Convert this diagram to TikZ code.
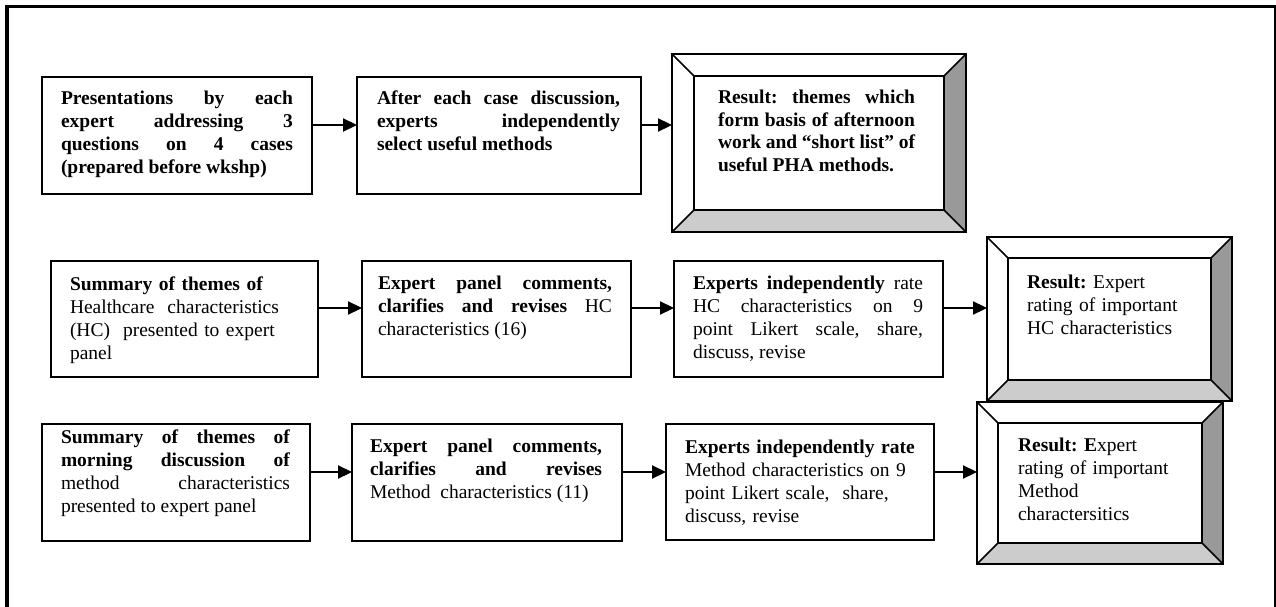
\documentclass[tikz,border=0pt]{standalone}
\usepackage{fontspec}
\setmainfont{Liberation Serif}
\usetikzlibrary{arrows.meta,calc}
\frenchspacing

\definecolor{bevdark}{gray}{0.6}
\definecolor{bevlight}{gray}{0.8}

% shaded faces and outlines of a bevelled result box (#1 outer node, #1-in inner node)
\newcommand\bevelparts[1]{%
  \fill[bevdark] (#1.north east) -- (#1.south east) -- (#1-in.south east) -- (#1-in.north east) -- cycle;
  \fill[bevlight] (#1.south west) -- (#1.south east) -- (#1-in.south east) -- (#1-in.south west) -- cycle;
  \draw[bevline] (#1.north west) rectangle (#1.south east);
  \draw[bevline] (#1-in.north west) rectangle (#1-in.south east);
  \draw[bevline] (#1.north west) -- (#1-in.north west)
                 (#1.north east) -- (#1-in.north east)
                 (#1.south west) -- (#1-in.south west)
                 (#1.south east) -- (#1-in.south east);
}

\begin{document}
\begin{tikzpicture}[x=1pt,y=-1pt,
  every node/.style={inner sep=0pt, outer sep=0pt},
  stepbox/.style={draw, line width=1.6pt, anchor=north west},
  bevelout/.style={anchor=north west},
  bevline/.style={line width=1.6pt, line join=miter},
  txt/.style={anchor=base west, font=\fontsize{19.5}{23}\selectfont\frenchspacing, align=justify},
  ltxt/.style={anchor=base west, font=\fontsize{19.5}{23}\selectfont\frenchspacing, align=left, text width=260pt},
  arr/.style={line width=2.2pt, -{Triangle[length=14pt,width=13pt]}},
]
% page area
\fill[white] (0,0) rectangle (1276,607);
\useasboundingbox (0,0) rectangle (1276,607);

% outer frame (open at the bottom)
\begin{scope}
\clip (0,0) rectangle (1276,607);
\draw[line width=3.5pt] (7,640) -- (7,6.5) -- (1276,6.5);
\draw[line width=1.2pt] (1275,6.5) -- (1275,640);
\end{scope}

% ---------- row 1 ----------
\node[stepbox, minimum width=270pt, minimum height=117pt] (a) at (42,77) {};
\node[stepbox, minimum width=284pt, minimum height=117pt] (b) at (357,77) {};
\node[bevelout, minimum width=294pt, minimum height=178pt] (c) at (672,54) {};
\node[minimum width=250pt, minimum height=134pt] (c-in) at (c.center) {};
\bevelparts{c}

\node[txt, text width=232pt] (a-t) at (61,105) {\bfseries Presentations by each\linebreak
  expert addressing 3\linebreak questions on 4 cases\linebreak (prepared before wkshp)};
\node[txt, text width=243pt] (b-t) at (377,105) {\bfseries After each case discussion,\linebreak
  experts independently\linebreak select useful methods};
\node[txt, text width=197pt] (c-t) at (718,103) {\bfseries Result: themes which\linebreak
  form basis of afternoon\linebreak work and “short list” of\linebreak useful PHA methods.};

\coordinate (r1) at (0,125);
\draw[arr] (a.east |- r1) -- (b.west |- r1);
\draw[arr] (b.east |- r1) -- (c.west |- r1);

% ---------- row 2 ----------
\node[stepbox, minimum width=267pt, minimum height=116pt] (d) at (51,261) {};
\node[stepbox, minimum width=269pt, minimum height=116pt] (e) at (362,261) {};
\node[stepbox, minimum width=269pt, minimum height=116pt] (f) at (674,261) {};
\node[bevelout, minimum width=245pt, minimum height=164pt] (g) at (987,237) {};
\node[minimum width=203pt, minimum height=122pt] (g-in) at (g.center) {};
\bevelparts{g}

\node[ltxt] (d-t) at (70,290) {\textbf{Summary of themes of}\\
  Healthcare\ \ characteristics\\ (HC)\ \ presented to expert\\ panel};
\node[txt, text width=234pt] (e-t) at (378,289) {\textbf{Expert panel comments,\linebreak
  clarifies and revises} HC\linebreak characteristics (16)};
\node[txt, text width=230pt] (f-t) at (693,289) {\textbf{Experts independently} rate\linebreak
  HC characteristics on 9\linebreak point Likert scale, share,\linebreak discuss, revise};
\node[ltxt] (g-t) at (1027,288) {\textbf{Result:} Expert\\ rating of important\\ HC characteristics};

\coordinate (r2) at (0,308);
\draw[arr] (d.east |- r2) -- (e.west |- r2);
\draw[arr] (e.east |- r2) -- (f.west |- r2);
\draw[arr] (f.east |- r2) -- (g.west |- r2);

% ---------- row 3 ----------
\node[stepbox, minimum width=268pt, minimum height=117pt] (h) at (42,424) {};
\node[stepbox, minimum width=270pt, minimum height=117pt] (i) at (352,424) {};
\node[stepbox, minimum width=268pt, minimum height=116pt] (j) at (666,424) {};
\node[bevelout, minimum width=246pt, minimum height=162pt] (k) at (977,402) {};
\node[minimum width=204pt, minimum height=120pt] (k-in) at (k.center) {};
\bevelparts{k}

\node[txt, text width=229pt] (h-t) at (61,443) {\textbf{Summary of themes of\linebreak
  morning discussion of}\linebreak method characteristics\linebreak presented to expert panel};
\node[txt, text width=232pt] (i-t) at (370,452) {\textbf{Expert panel comments,\linebreak
  clarifies and revises}\linebreak Method\ \ characteristics (11)};
\node[ltxt] (j-t) at (685,453) {\textbf{Experts independently rate}\\
  Method characteristics on 9\\ point Likert scale,\ \ share,\\ discuss, revise};
\node[ltxt] (k-t) at (1018,451) {\textbf{Result: E}xpert\\ rating of important\\ Method\\ charactersitics};

\coordinate (r3) at (0,472);
\draw[arr] (h.east |- r3) -- (i.west |- r3);
\draw[arr] (i.east |- r3) -- (j.west |- r3);
\draw[arr] (j.east |- r3) -- (k.west |- r3);
\end{tikzpicture}
\end{document}
